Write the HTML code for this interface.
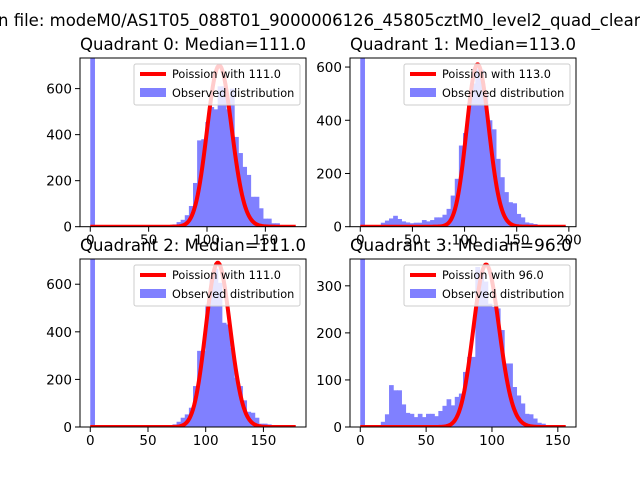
<!DOCTYPE html>
<html><head><meta charset="utf-8"><style>
html,body{margin:0;padding:0;background:#fff;overflow:hidden}
svg{display:block;font-family:"DejaVu Sans","Liberation Sans",sans-serif}
</style></head><body>
<svg id="fig" width="640" height="480" viewBox="0 0 640 480">
<text x="-2" y="26" font-size="16.5" fill="#000">n file: modeM0/AS1T05_088T01_9000006126_45805cztM0_level2_quad_clean</text>
</svg>
<script>
// Data per quadrant
const titles = ["Quadrant 0: Median=111.0","Quadrant 1: Median=113.0","Quadrant 2: Median=111.0","Quadrant 3: Median=96.0"];
const medians = [111, 113, 111, 96];
const dataMax = [176, 197, 178, 156];
const yMax = [733, 634, 706, 357];
const curvePeak = [700, 610, 690, 345];
const yTicks0 = [0,200,400,600];
const yTicks1 = [0,200,400,600];
const yTicks2 = [0,200,400,600];
const yTicks3 = [0,100,200,300];
const xTicks0 = [0,50,100,150];
const xTicks1 = [0,50,100,150,200];
const xTicks2 = [0,50,100,150];
const xTicks3 = [0,50,100,150];
const counts0 = [2000,0,0,0,0,0,0,0,0,0,0,0,0,0,0,0,0,0,0,0,10,20,30,50,90,190,375,380,455,520,510,610,610,510,600,390,320,260,225,130,130,80,35,35,15,15,5,0,0,0];
const counts1 = [2000,0,0,0,0,15,23,31,41,29,20,16,13,15,15,25,20,25,35,35,45,67,117,180,305,352,463,538,595,590,500,400,366,255,186,130,92,88,48,35,16,13,10,5,5,5,4,3,2,2];
const counts2 = [2000,0,0,0,0,0,0,0,0,0,0,0,0,0,0,0,0,0,0,0,11,22,39,53,81,172,320,320,515,627,665,606,438,431,333,207,172,112,64,60,39,14,14,11,3,3,2,1,1,1];
const counts3 = [2000,0,0,0,0,11,27,89,78,78,48,30,28,21,28,21,28,28,23,34,45,59,46,64,71,117,149,149,340,330,309,262,255,252,206,135,135,85,67,50,28,27,18,9,7,2,1,1,0,0];
const allCounts = [counts0,counts1,counts2,counts3];
const allYT = [yTicks0,yTicks1,yTicks2,yTicks3];
const allXT = [xTicks0,xTicks1,xTicks2,xTicks3];

const NS = "http://www.w3.org/2000/svg";
const svg = document.getElementById('fig');
function mk(tag, attrs, parent){ const e=document.createElementNS(NS,tag); for(const k in attrs) e.setAttribute(k,attrs[k]); (parent||svg).appendChild(e); return e; }
function lgam(x){
  if(x<7){ let p=1; while(x<7){p*=x;x++;} return lgam(x)-Math.log(p); }
  return (x-0.5)*Math.log(x)-x+0.5*Math.log(2*Math.PI)+1/(12*x)-1/(360*x*x*x);
}
const boxes = [[80,58,306,226.7],[350,58,576,226.7],[80,259,306,427],[350,259,576,427]];
for(let q=0;q<4;q++){
  const [L,T,R,B] = boxes[q];
  const mx = dataMax[q], pad = mx*0.05;
  const x0 = -pad, x1 = mx+pad;
  const sx = v => L + (v-x0)/(x1-x0)*(R-L);
  const sy = v => B - v/yMax[q]*(B-T);
  const g = mk('g',{});
  
  
  const cp = mk('clipPath',{id:'cp'+q}, g);
  mk('rect',{x:L,y:T,width:R-L,height:B-T},cp);
  const plot = mk('g',{'clip-path':'url(#cp'+q+')'},g);
  const counts = allCounts[q];
  const bw = mx/counts.length;
  counts.forEach((c,i)=>{
    if(c<=0) return;
    const r = mk('rect',{x:sx(i*bw),y:sy(c),width:sx((i+1)*bw)-sx(i*bw)+0.6,height:B-sy(c),fill:'#8080ff'},plot);
    
    
  });
  const m = medians[q];
  const mode = Math.floor(m);
  const lp = k => k*Math.log(m)-m-lgam(k+1);
  const scale = curvePeak[q]/Math.exp(lp(mode));
  let d='';
  for(let k=0;k<=mx;k++){ const v=Math.exp(lp(k))*scale; d+=(k?'L':'M')+sx(k).toFixed(2)+','+sy(v).toFixed(2); }
  const pl = mk('path',{d:d,fill:'none',stroke:'#ff0000','stroke-width':4,'stroke-linejoin':'round'},plot);
  
  
  const fr = mk('rect',{x:L,y:T,width:R-L,height:B-T,fill:'none',stroke:'#000','stroke-width':1},g);
  
  
  allXT[q].forEach(t=>{
    const x=sx(t);
    mk('line',{x1:x,x2:x,y1:B,y2:B+5,stroke:'#000','stroke-width':1},g);
    const tx=mk('text',{x:x,y:B+18,'font-size':13.5,'text-anchor':'middle'},g);
    tx.textContent=t;
    
    
  });
  allYT[q].forEach(t=>{
    const y=sy(t);
    mk('line',{x1:L-5,x2:L,y1:y,y2:y,stroke:'#000','stroke-width':1},g);
    const tx=mk('text',{x:L-8,y:y+5,'font-size':13.5,'text-anchor':'end'},g);
    tx.textContent=t;
    
    
  });
  const tt = mk('text',{x:L,y:T-8,'font-size':16.5,textLength:(q==3?222:226),lengthAdjust:'spacingAndGlyphs'},g);
  tt.textContent = titles[q];
  
  
  const lg = mk('g',{},g);
  
  
  const lx = R-172, ly = T+6;
  mk('rect',{x:lx,y:ly,width:166,height:41,rx:2,fill:'#fff','fill-opacity':0.8,stroke:'#ccc','stroke-width':1},lg);
  mk('line',{x1:lx+6,x2:lx+32,y1:ly+10,y2:ly+10,stroke:'#ff0000','stroke-width':4},lg);
  const t1=mk('text',{x:lx+38,y:ly+14,'font-size':11.3},lg);
  t1.textContent='Poission with '+m.toFixed(1);
  
  
  mk('rect',{x:lx+6,y:ly+24,width:26,height:9,fill:'#8080ff'},lg);
  const t2=mk('text',{x:lx+38,y:ly+33,'font-size':11.3},lg);
  t2.textContent='Observed distribution';
  
  
}
</script>
</body></html>
